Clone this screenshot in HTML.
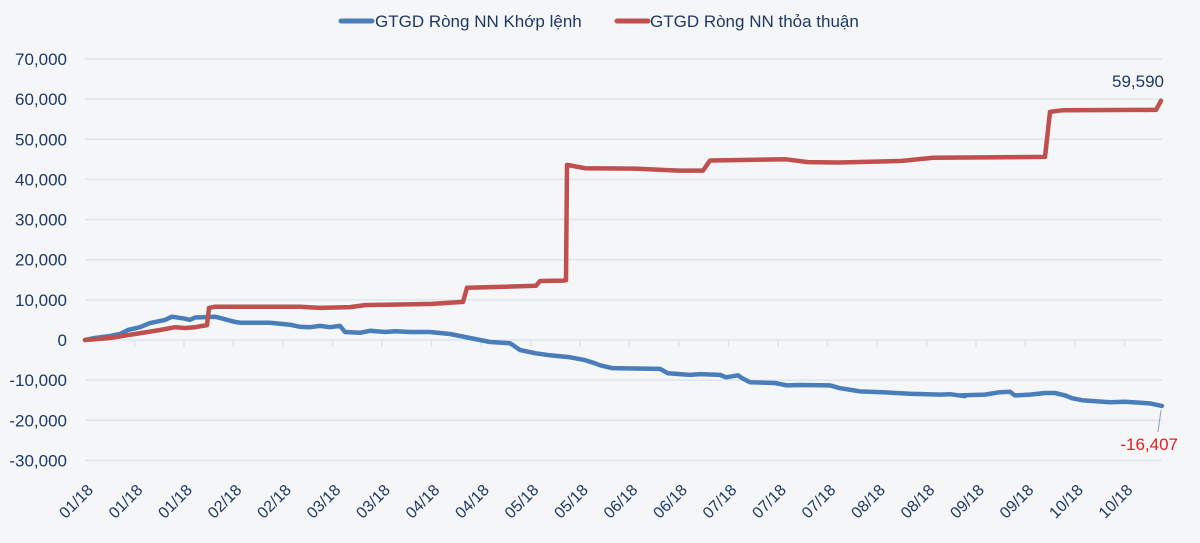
<!DOCTYPE html>
<html><head><meta charset="utf-8"><style>
body{margin:0;background:#f5f6f7;}
svg{display:block;font-family:"Liberation Sans","Noto Sans CJK SC",sans-serif;}
</style></head><body>
<svg id="chart" width="1200" height="543">
<rect width="1200" height="543" fill="#f5f6f7"/>
<g id="grid"></g><g id="yaxis"></g><g id="xaxis"></g><g id="series"></g>
<g>
<g><line x1="341" y1="21" x2="372" y2="21" stroke="#4a7ebb" stroke-width="5" stroke-linecap="round"/><text x="375" y="27" font-size="17" fill="#1f3864">GTGD Ròng NN Khớp lệnh</text></g>
<g><line x1="617" y1="21" x2="648" y2="21" stroke="#c0504d" stroke-width="5" stroke-linecap="round"/><text x="650" y="27" font-size="17" fill="#1f3864">GTGD Ròng NN thỏa thuận</text></g>
</g>
<text x="1164" y="87" font-size="17" fill="#1f3864" text-anchor="end">59,590</text>
<line x1="1161" y1="410" x2="1158" y2="432" stroke="#8aa0bf" stroke-width="1"/>
<text x="1178" y="450" font-size="17" fill="#e02020" text-anchor="end">-16,407</text>
</svg>
<script>
const yTicks=[70000,60000,50000,40000,30000,20000,10000,0,-10000,-20000,-30000];
const xLabels=["01/18","01/18","01/18","02/18","02/18","03/18","03/18","04/18","04/18","05/18","05/18","06/18","06/18","07/18","07/18","07/18","08/18","08/18","09/18","09/18","10/18","10/18"];
const redDays=[0,5,10,15,18,20,22,24.4,24.8,26,43,47,53,56,69.4,75.6,76.4,90.2,91,95.6,96.2,96.4,100,109.8,118.8,123.6,125,140.2,144.6,150.8,163.4,169.6,192,193,195.4,213.4,214.2,215.2];
const redVals=[0,500,1500,2500,3200,3000,3200,3700,8000,8300,8300,8000,8200,8700,9000,9500,13000,13500,14700,14800,14900,43600,42800,42700,42200,42200,44700,45000,44300,44200,44600,45400,45600,56800,57200,57300,57300,59590];
const blueDays=[0,2,5,7,8.6,11,13,16,17.4,20,21,22,26,27,30,31,37,41,43,45,47,49,51,52,55,57,60,62,65,69,73,75,77,79,81,85,87,90,93,97,100,102,103,105.4,115,116.6,121,123,127,128.2,130.6,131.4,133,138,140.4,143,149,151,155,159.4,163.6,165,171,173,176,175,180,183,185,186,189,192,194,196,197.4,199.4,205,208,213,215.4];
const blueVals=[0,500,1000,1500,2500,3200,4200,5000,5800,5300,5000,5600,5800,5500,4500,4300,4300,3800,3300,3200,3500,3200,3500,2000,1800,2300,2000,2200,2000,2000,1500,1000,500,0,-500,-800,-2500,-3300,-3800,-4300,-5000,-5800,-6300,-7000,-7200,-8300,-8700,-8500,-8700,-9300,-8800,-9500,-10500,-10700,-11300,-11200,-11300,-12000,-12800,-13000,-13300,-13400,-13600,-13500,-14000,-13800,-13600,-13000,-12900,-13800,-13600,-13200,-13200,-13800,-14500,-15000,-15500,-15400,-15800,-16407];
const NS='http://www.w3.org/2000/svg';
const X0=85,X1=1162,DMAX=215.4;
function xs(d){return X0+d*(X1-X0)/DMAX;}
function ys(v){return 340-v*0.004015;}
function mk(tag,attrs,parent){const e=document.createElementNS(NS,tag);for(const k in attrs)e.setAttribute(k,attrs[k]);parent.appendChild(e);return e;}
const grid=document.getElementById('grid'),ya=document.getElementById('yaxis'),xa=document.getElementById('xaxis'),se=document.getElementById('series');
yTicks.forEach(v=>{
 const l=mk('line',{x1:X0,x2:X1,y1:ys(v),y2:ys(v),stroke:'#dce5ef','stroke-width':1.5},grid);
 
 
 const t=mk('text',{x:67,y:ys(v)+6,'font-size':17,fill:'#1f3864','text-anchor':'end'},ya);
 t.textContent=v.toLocaleString('en-US');
 
 
});
const step=49.5;
xLabels.forEach((lab,i)=>{
 const tx=X0+i*step;
 if(i>0){const tk=mk('line',{x1:tx,x2:tx,y1:340,y2:347,stroke:'#dce5ef','stroke-width':1.5},xa);
 
 }
 const ax=tx+9, ay=491;
 const t=mk('text',{x:ax,y:ay,'font-size':16,fill:'#1f3864','text-anchor':'end',transform:`rotate(-45 ${ax} ${ay})`},xa);
 t.textContent=lab;
 
 
});
function path(days,vals,color,name){
 const d=days.map((dd,i)=>(i?'L':'M')+xs(dd).toFixed(1)+' '+ys(vals[i]).toFixed(1)).join(' ');
 const p=mk('path',{d:d,fill:'none',stroke:color,'stroke-width':4.5,'stroke-linejoin':'round','stroke-linecap':'round'},se);
 
 
}
path(blueDays,blueVals,'#4a7ebb','series-khop-lenh');
path(redDays,redVals,'#c0504d','series-thoa-thuan');
</script>
</body></html>
